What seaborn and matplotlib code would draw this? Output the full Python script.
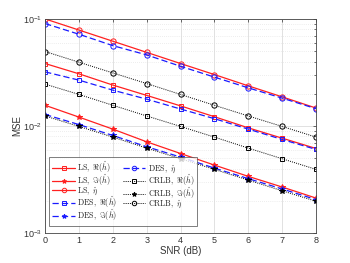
import numpy as np
import seaborn as sns
import matplotlib.pyplot as plt
from matplotlib.ticker import LogLocator, NullFormatter

snr = [0, 1, 2, 3, 4, 5, 6, 7, 8]

ls_re = [0.0383, 0.0307, 0.0241, 0.0193, 0.0154, 0.0122, 0.0096, 0.00769, 0.00616]
ls_im = [0.0156, 0.0121, 0.00934, 0.00711, 0.00553, 0.00431, 0.00338, 0.00269, 0.00212]
ls_eta = [0.1, 0.0787, 0.0619, 0.0487, 0.0383, 0.0302, 0.0237, 0.0187, 0.0147]
des_re = [0.032, 0.0268, 0.0216, 0.0178, 0.0144, 0.0117, 0.00934, 0.00748, 0.00604]
des_im = [0.0128, 0.0103, 0.00815, 0.0064, 0.00512, 0.00404, 0.00322, 0.00258, 0.00205]
des_eta = [0.0905, 0.0719, 0.0563, 0.0461, 0.0361, 0.0286, 0.0227, 0.0182, 0.0145]
crlb_re = [0.0246, 0.0197, 0.0156, 0.0124, 0.0099, 0.00787, 0.00621, 0.00494, 0.00393]
crlb_im = [0.0124, 0.0099, 0.00787, 0.00621, 0.00494, 0.00393, 0.00312, 0.00248, 0.00198]
crlb_eta = [0.0496, 0.0394, 0.0313, 0.0249, 0.0197, 0.0156, 0.0124, 0.0099, 0.00787]

labels = [r"$\mathrm{LS},\ \Re(\hat{h})$", r"$\mathrm{LS},\ \Im(\hat{h})$", r"$\mathrm{LS},\ \hat{\eta}$",
          r"$\mathrm{DES},\ \Re(\hat{h})$", r"$\mathrm{DES},\ \Im(\hat{h})$", r"$\mathrm{DES},\ \hat{\eta}$",
          r"$\mathrm{CRLB},\ \Re(\hat{h})$", r"$\mathrm{CRLB},\ \Im(\hat{h})$", r"$\mathrm{CRLB},\ \hat{\eta}$"]
groups = ['LS', 'LS', 'LS', 'DES', 'DES', 'DES', 'CRLB', 'CRLB', 'CRLB']
series = [ls_re, ls_im, ls_eta, des_re, des_im, des_eta, crlb_re, crlb_im, crlb_eta]

sns.set_style("white")
plt.rcParams['font.family'] = ['Liberation Sans', 'DejaVu Sans']
plt.rcParams['mathtext.fontset'] = 'cm'

fig = plt.figure(figsize=(3.5, 2.63), dpi=100)
ax = fig.add_axes([0.129, 0.114, 0.774, 0.814])

styles = {
    'LS': dict(color='#ff2020', linestyle='-', lw=0.9),
    'DES': dict(color='#1a1aff', linestyle=(0, (5, 2.5)), lw=0.9),
    'CRLB': dict(color='black', linestyle=(0, (1, 1.2)), lw=0.7),
}
markers = ['s', '*', 'o']
msizes = {'s': 3.5, '*': 4.0, 'o': 3.8}

for i, (lab, grp, vals) in enumerate(zip(labels, groups, series)):
    st = styles[grp]
    m = markers[i % 3]
    filled = m == '*'
    sns.lineplot(x=snr, y=vals, ax=ax, label=lab, color=st['color'],
                 linestyle=st['linestyle'], linewidth=st['lw'], marker=m,
                 markersize=msizes[m],
                 markerfacecolor=st['color'] if filled else 'none',
                 markeredgecolor=st['color'], markeredgewidth=0.7)

ax.set_yscale('log')
ax.set_xlim(0, 8)
ax.set_ylim(1e-3, 1e-1)
ax.set_xticks(snr)
ax.yaxis.set_minor_locator(LogLocator(base=10, subs=np.arange(2, 10)))
ax.yaxis.set_minor_formatter(NullFormatter())
ax.grid(True, which='major', color='#dcdcdc', lw=0.6)
ax.grid(True, which='minor', color='#dcdcdc', lw=0.5, linestyle=(0, (1, 2)))
ax.tick_params(which='both', direction='in', top=True, right=True,
               labelsize=6.5, length=2.5, width=0.5, pad=2, colors='#333333')
ax.tick_params(which='minor', length=1.5)
for s in ax.spines.values():
    s.set_linewidth(0.6)
    s.set_color('#444444')
ax.set_xlabel("SNR (dB)", fontsize=7, labelpad=1, color='#333333')
ax.set_ylabel("MSE", fontsize=7, labelpad=1, color='#333333')

leg = ax.legend(ncol=2, loc='lower left', bbox_to_anchor=(0.01, 0.025),
                prop={'size': 5.8}, markerscale=0.85,
                frameon=True, fancybox=False, edgecolor='#444444',
                handlelength=2.8, handletextpad=0.3, columnspacing=0.7,
                labelspacing=-0.3, borderpad=0.35, borderaxespad=0.2)
leg.get_frame().set_linewidth(0.6)

fig.savefig("out.png", dpi=100)
